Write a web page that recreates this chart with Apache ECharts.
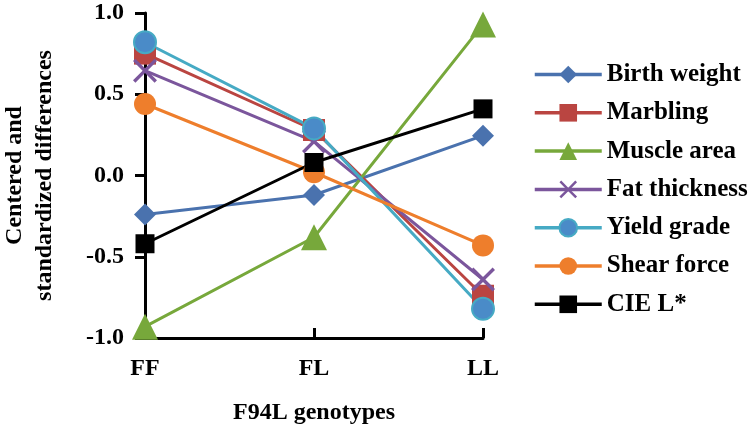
<!DOCTYPE html>
<html>
<head>
<meta charset="utf-8">
<script src="https://cdn.jsdelivr.net/npm/echarts@6/dist/echarts.min.js"></script>
<style>
html,body{margin:0;padding:0;background:#fff;}
#chart{width:751px;height:430px;}
</style>
</head>
<body>
<div id="chart"></div>
<script>
var categories = ['FF', 'FL', 'LL'];
var birthWeight = [-0.24, -0.12, 0.245];
var marbling = [0.75, 0.28, -0.74];
var muscleArea = [-0.93, -0.38, 0.93];
var fatThickness = [0.645, 0.21, -0.64];
var yieldGrade = [0.82, 0.29, -0.82];
var shearForce = [0.44, 0.02, -0.43];
var cieL = [-0.42, 0.08, 0.41];
var yTicks = [-1.0, -0.5, 0.0, 0.5, 1.0];

var FONT = '"Liberation Serif", "Times New Roman", serif';
var xPath = 'path://M0,2 L2,0 L10,8 L18,0 L20,2 L12,10 L20,18 L18,20 L10,12 L2,20 L0,18 L8,10 Z';

function mk(name, data, color, symbol, size, extra) {
  var s = {
    name: name, type: 'line', data: data,
    symbol: symbol, symbolSize: size,
    lineStyle: { color: color, width: 3 },
    itemStyle: { color: color },
    emphasis: { disabled: true },
    animation: false
  };
  if (extra) { for (var k in extra) s[k] = extra[k]; }
  return s;
}

var chart = echarts.init(document.getElementById('chart'));
chart.setOption({
  backgroundColor: '#fff',
  animation: false,
  grid: { left: 145, top: 13, right: 268, bottom: 92, containLabel: false, outerBoundsMode: 'none' },
  legend: {
    orient: 'vertical', left: 528, top: 57,
    itemWidth: 67, itemHeight: 22, itemGap: 13.3,
    lineStyle: { width: 3.5 },
    textStyle: { fontFamily: FONT, fontWeight: 'bold', fontSize: 25, lineHeight: 24, color: '#000' },
    data: ['Birth weight', 'Marbling', 'Muscle area', 'Fat thickness', 'Yield grade', 'Shear force', 'CIE L*']
  },
  xAxis: {
    type: 'category', data: categories, boundaryGap: false,
    name: 'F94L genotypes', nameLocation: 'middle', nameGap: 63,
    nameTextStyle: { fontFamily: FONT, fontWeight: 'bold', fontSize: 24, color: '#000' },
    axisLine: { onZero: false, lineStyle: { color: '#000', width: 3 } },
    axisTick: { inside: true, length: 10, lineStyle: { color: '#000', width: 3 } },
    axisLabel: { margin: 19, fontFamily: FONT, fontWeight: 'bold', fontSize: 24, color: '#000' },
    splitLine: { show: false }
  },
  yAxis: {
    type: 'value', min: -1, max: 1, interval: 0.5,
    name: 'Centered and\nstandardized differences', nameLocation: 'middle', nameGap: 85, nameRotate: 90,
    nameTextStyle: { fontFamily: FONT, fontWeight: 'bold', fontSize: 24, color: '#000', lineHeight: 30 },
    axisLine: { show: true, onZero: false, lineStyle: { color: '#000', width: 3 } },
    axisTick: { show: true, length: 10, lineStyle: { color: '#000', width: 3 } },
    axisLabel: {
      margin: 21, fontFamily: FONT, fontWeight: 'bold', fontSize: 24, color: '#000',
      formatter: function (v) { return v.toFixed(1); }
    },
    splitLine: { show: false }
  },
  series: [
    mk('Birth weight', birthWeight, '#4A72AE', 'diamond', 22),
    mk('Marbling', marbling, '#BA4541', 'rect', 22),
    mk('Muscle area', muscleArea, '#77A83B', 'triangle', 26),
    mk('Fat thickness', fatThickness, '#7B569C', xPath, 24),
    mk('Yield grade', yieldGrade, '#46AAC4', 'circle', 22, {
      itemStyle: { color: '#4A8BC8', borderColor: '#46AAC4', borderWidth: 2 }
    }),
    mk('Shear force', shearForce, '#EE7E2C', 'circle', 22),
    mk('CIE L*', cieL, '#000000', 'rect', 19)
  ]
});
</script>
</body>
</html>
